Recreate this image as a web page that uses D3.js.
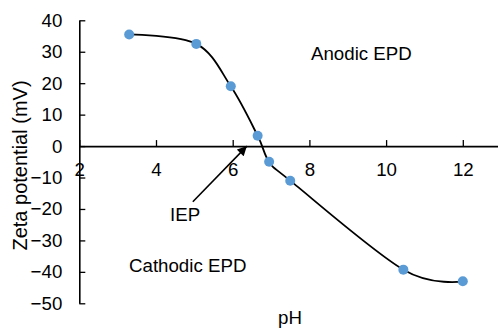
<!DOCTYPE html>
<html>
<head>
<meta charset="utf-8">
<script src="https://cdn.jsdelivr.net/npm/d3@7"></script>
<style>
  body { margin: 0; background: #fff; }
  text { font-family: "Liberation Sans", Arial, sans-serif; fill: #000; }
</style>
</head>
<body>
<div id="chart"></div>
<script>
// Data
const pH = [3.3, 5.05, 5.95, 6.65, 6.95, 7.5, 10.45, 12.0];
const zeta = [35.5, 32.5, 19, 3.3, -5, -11, -39.3, -43];
const xTicks = [2, 4, 6, 8, 10, 12];
const yTicks = [40, 30, 20, 10, 0, -10, -20, -30, -40, -50];

const data = pH.map((p, i) => ({ x: p, y: zeta[i] }));

const width = 498;
const height = 329;

const svg = d3.select('#chart')
  .append('svg')
  .attr('width', width)
  .attr('height', height);

// Scales (x axis runs past the right edge, as in the reference)
const x = d3.scaleLinear().domain([2, 14]).range([79.3, 539.5]);
const y = d3.scaleLinear().domain([-50, 40]).range([303.3, 20.3]);

// X axis through y = 0, ticks pointing up
const xAxis = svg.append('g')
  .attr('transform', `translate(0,${y(0)})`)
  .call(d3.axisBottom(x).tickValues(xTicks).tickSizeInner(-6).tickSizeOuter(0));
xAxis.select('.domain').attr('stroke', '#000').attr('stroke-width', 1.6);
xAxis.selectAll('.tick line').attr('stroke', '#000').attr('stroke-width', 1.3);
xAxis.selectAll('.tick text')
  .attr('y', 17)
  .attr('dy', '0.71em')
  .style('font-size', '18.7px');

// Y axis, ticks pointing right
const yAxis = svg.append('g')
  .attr('transform', `translate(${x(2)},0)`)
  .call(d3.axisLeft(y).tickValues(yTicks).tickSizeInner(-6).tickSizeOuter(0));
yAxis.select('.domain').attr('stroke', '#000').attr('stroke-width', 1.6);
yAxis.selectAll('.tick line').attr('stroke', '#000').attr('stroke-width', 1.3);
yAxis.selectAll('.tick text')
  .attr('x', -17)
  .style('font-size', '18.7px');

// Smoothed line
const line = d3.line()
  .x(d => x(d.x))
  .y(d => y(d.y))
  .curve(d3.curveCardinal.tension(0));

svg.append('path')
  .datum(data)
  .attr('fill', 'none')
  .attr('stroke', '#000')
  .attr('stroke-width', 1.8)
  .attr('d', line);

// Markers
svg.selectAll('circle.pt')
  .data(data)
  .enter()
  .append('circle')
  .attr('class', 'pt')
  .attr('cx', d => x(d.x))
  .attr('cy', d => y(d.y))
  .attr('r', 5)
  .attr('fill', '#5B9BD5');

// Axis titles
svg.append('text')
  .attr('transform', 'translate(27,165.5) rotate(-90)')
  .attr('text-anchor', 'middle')
  .style('font-size', '20px')
  .text('Zeta potential (mV)');

svg.append('text')
  .attr('x', 290)
  .attr('y', 324)
  .attr('text-anchor', 'middle')
  .style('font-size', '18.7px')
  .text('pH');

// Region labels
svg.append('text')
  .attr('x', 311)
  .attr('y', 60)
  .style('font-size', '18.7px')
  .text('Anodic EPD');

svg.append('text')
  .attr('x', 129)
  .attr('y', 272)
  .style('font-size', '18.7px')
  .text('Cathodic EPD');

// IEP annotation with arrow
const defs = svg.append('defs');
defs.append('marker')
  .attr('id', 'arrow')
  .attr('viewBox', '0 0 10 10')
  .attr('refX', 10)
  .attr('refY', 5)
  .attr('markerWidth', 7)
  .attr('markerHeight', 6)
  .attr('markerUnits', 'strokeWidth')
  .attr('orient', 'auto')
  .append('path')
  .attr('d', 'M0,0 L10,5 L0,10 Z')
  .attr('fill', '#000');

svg.append('line')
  .attr('x1', x(4.96))
  .attr('y1', y(-17.7))
  .attr('x2', x(6.37))
  .attr('y2', y(0))
  .attr('stroke', '#000')
  .attr('stroke-width', 1.6)
  .attr('marker-end', 'url(#arrow)');

svg.append('text')
  .attr('x', 170)
  .attr('y', 221)
  .style('font-size', '18.7px')
  .text('IEP');
</script>
</body>
</html>
